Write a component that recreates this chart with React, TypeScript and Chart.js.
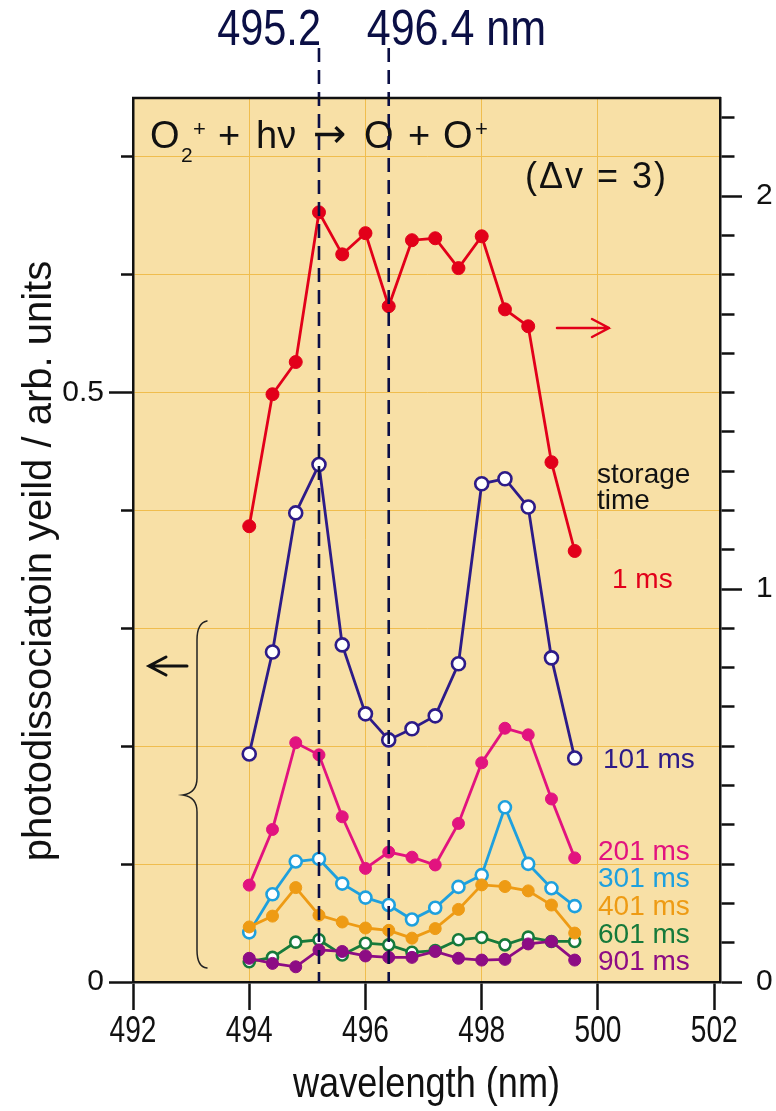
import React, { useEffect, useRef } from "react";
import { Chart, registerables } from "chart.js";

Chart.register(...registerables);

// wavelength grid (nm)
const wavelengths = [494.0, 494.4, 494.8, 495.2, 495.6, 496.0, 496.4, 496.8, 497.2, 497.6, 498.0, 498.4, 498.8, 499.2, 499.6];

// photodissociation yield for each storage time (1 ms on right axis, others on left axis)
const yield1ms = [1.16, 1.496, 1.578, 1.959, 1.852, 1.906, 1.72, 1.888, 1.893, 1.817, 1.898, 1.712, 1.669, 1.323, 1.097];
const yield101ms = [0.1935, 0.28, 0.398, 0.439, 0.286, 0.2275, 0.2054, 0.2148, 0.2258, 0.27, 0.4227, 0.427, 0.403, 0.275, 0.19];
const yield201ms = [0.0822, 0.1294, 0.203, 0.1927, 0.1402, 0.0964, 0.1102, 0.1059, 0.0993, 0.1345, 0.186, 0.2153, 0.2097, 0.1553, 0.1053];
const yield301ms = [0.0421, 0.0744, 0.1022, 0.1044, 0.0835, 0.0716, 0.0653, 0.053, 0.063, 0.0807, 0.0907, 0.1482, 0.1002, 0.0795, 0.0644];
const yield401ms = [0.0467, 0.0559, 0.0801, 0.0567, 0.0509, 0.0458, 0.0438, 0.0372, 0.0453, 0.0616, 0.0824, 0.081, 0.0773, 0.0653, 0.0415];
const yield601ms = [0.0172, 0.0209, 0.0338, 0.0358, 0.0229, 0.0329, 0.0315, 0.0252, 0.0267, 0.0358, 0.0378, 0.0315, 0.0381, 0.0344, 0.0344];
const yield901ms = [0.0201, 0.0158, 0.0129, 0.0272, 0.0259, 0.0221, 0.0209, 0.0209, 0.0259, 0.0201, 0.0186, 0.0192, 0.0323, 0.0344, 0.0186];

// marked wavelengths (nm)
const markedLines = [495.2, 496.4];
const markedLabels = ["495.2", "496.4 nm"];

// axis tick labels
const leftMajor = [0, 0.5];
const rightMajor = [0, 1, 2];
const xTitle = "wavelength (nm)";
const yTitle = "photodissociatoin yeild / arb. units";

const SANS = '"Liberation Sans", Arial, sans-serif';

const C_RED = "#e2001a";
const C_NAVY = "#2d1b88";
const C_PINK = "#e2137f";
const C_CYAN = "#1ea0de";
const C_ORANGE = "#ee9b14";
const C_GREEN = "#167a3b";
const C_PURPLE = "#8d0c84";
const C_DASH = "#0b0f45";
const BG = "#f8e0a6";
const GRID = "#f0bd4e";
const INK = "#111111";

const near = (a: number, b: number) => Math.abs(a - b) < 1e-6;

function series(label: string, ys: number[], color: string, open: boolean, axis = "y", r = 6) {
  return {
    label,
    data: wavelengths.map((x, i) => ({ x, y: ys[i] })),
    yAxisID: axis,
    borderColor: color,
    backgroundColor: color,
    borderWidth: 2.8,
    pointRadius: r,
    pointBorderWidth: open ? 2.6 : 1,
    pointBackgroundColor: open ? "#ffffff" : color,
    pointBorderColor: color,
    tension: 0,
    fill: false,
    clip: false as any,
  };
}

function text(ctx: CanvasRenderingContext2D, s: string, x: number, y: number, font: string, color: string, align: CanvasTextAlign = "left", baseline: CanvasTextBaseline = "middle") {
  ctx.font = font;
  ctx.fillStyle = color;
  ctx.textAlign = align;
  ctx.textBaseline = baseline;
  ctx.fillText(s, x, y);
}

// text squeezed horizontally (condensed look)
function narrowText(ctx: CanvasRenderingContext2D, s: string, x: number, y: number, size: number, sx: number, color: string, align: CanvasTextAlign, baseline: CanvasTextBaseline) {
  ctx.save();
  ctx.translate(x, y);
  ctx.scale(sx, 1);
  text(ctx, s, 0, 0, `${size}px ${SANS}`, color, align, baseline);
  ctx.restore();
}

const decorPlugin = {
  id: "decor",
  beforeDraw(chart: any) {
    const { ctx, chartArea: a } = chart;
    ctx.save();
    ctx.fillStyle = BG;
    ctx.fillRect(a.left, a.top, a.right - a.left, a.bottom - a.top);
    ctx.restore();
  },
  afterDraw(chart: any) {
    const { ctx, chartArea: a, scales } = chart;
    const xs = scales.x;
    ctx.save();
    // x tick labels and title in a condensed face
    xs.ticks.forEach((t: any) => {
      narrowText(ctx, String(t.value), xs.getPixelForValue(t.value), 1032, 36, 0.78, INK, "center", "middle");
    });
    narrowText(ctx, xTitle, (a.left + a.right) / 2, 1085, 42, 0.86, INK, "center", "middle");
    ctx.restore();
  },
  afterDatasetsDraw(chart: any) {
    const { ctx, chartArea: a, scales } = chart;
    const xs = scales.x;
    ctx.save();

    // reaction formula
    const base = 148;
    const f38 = `38px ${SANS}`;
    text(ctx, "O", 150, base, f38, INK, "left", "alphabetic");
    text(ctx, "2", 181, base + 14, `21px ${SANS}`, INK, "left", "alphabetic");
    text(ctx, "+", 193, base - 12, `22px ${SANS}`, INK, "left", "alphabetic");
    text(ctx, "+", 218, base, f38, INK, "left", "alphabetic");
    text(ctx, "h\u03bd", 256, base, f38, INK, "left", "alphabetic");
    text(ctx, "\u2192", 313, base - 1, `40px "DejaVu Sans", ${SANS}`, INK, "left", "alphabetic");
    text(ctx, "O", 364, base, f38, INK, "left", "alphabetic");
    text(ctx, "+", 408, base, f38, INK, "left", "alphabetic");
    text(ctx, "O", 443, base, f38, INK, "left", "alphabetic");
    text(ctx, "+", 475, base - 12, `22px ${SANS}`, INK, "left", "alphabetic");

    // vibrational quantum change
    ctx.save();
    (ctx as any).letterSpacing = "2px";
    text(ctx, "(\u0394v = 3)", 525, 178, `36px ${SANS}`, INK, "left", "middle");
    ctx.restore();

    // storage-time labels
    const f28 = `28px ${SANS}`;
    text(ctx, "storage", 597, 475, f28, INK);
    text(ctx, "time", 597, 501, f28, INK);
    text(ctx, "1 ms", 612, 580, f28, C_RED);
    text(ctx, "101 ms", 603, 760, f28, C_NAVY);
    text(ctx, "201 ms", 598, 852, f28, C_PINK);
    text(ctx, "301 ms", 598, 879, f28, C_CYAN);
    text(ctx, "401 ms", 598, 907, f28, C_ORANGE);
    text(ctx, "601 ms", 598, 935, f28, C_GREEN);
    text(ctx, "901 ms", 598, 962, f28, C_PURPLE);

    // axis pointers
    ctx.lineCap = "round";
    ctx.strokeStyle = C_RED;
    ctx.lineWidth = 2.5;
    ctx.beginPath();
    ctx.moveTo(557, 328);
    ctx.lineTo(609, 328);
    ctx.moveTo(592, 319);
    ctx.lineTo(609, 328);
    ctx.lineTo(592, 337);
    ctx.stroke();

    ctx.strokeStyle = INK;
    ctx.lineWidth = 3;
    ctx.beginPath();
    ctx.moveTo(187, 666);
    ctx.lineTo(149, 666);
    ctx.moveTo(166, 657);
    ctx.lineTo(149, 666);
    ctx.lineTo(166, 675);
    ctx.stroke();

    // curly brace grouping the left-axis series
    ctx.strokeStyle = "#222222";
    ctx.lineWidth = 1.5;
    ctx.beginPath();
    ctx.moveTo(207, 621);
    ctx.quadraticCurveTo(197, 623, 197, 640);
    ctx.lineTo(197, 778);
    ctx.quadraticCurveTo(197, 793, 183, 795);
    ctx.quadraticCurveTo(197, 797, 197, 812);
    ctx.lineTo(197, 950);
    ctx.quadraticCurveTo(197, 967, 207, 968);
    ctx.stroke();

    // y-axis title
    ctx.save();
    ctx.translate(40, 561);
    ctx.rotate(-Math.PI / 2);
    text(ctx, yTitle, 0, 0, `40px ${SANS}`, INK, "center", "middle");
    ctx.restore();

    // marked wavelengths
    ctx.lineCap = "butt";
    ctx.strokeStyle = C_DASH;
    ctx.lineWidth = 2.6;
    ctx.setLineDash([14, 8]);
    markedLines.forEach((w) => {
      const px = xs.getPixelForValue(w);
      ctx.beginPath();
      ctx.moveTo(px, 48);
      ctx.lineTo(px, a.bottom);
      ctx.stroke();
    });
    ctx.setLineDash([]);
    const p0 = xs.getPixelForValue(markedLines[0]);
    const p1 = xs.getPixelForValue(markedLines[1]);
    narrowText(ctx, markedLabels[0], p0 + 2, 45, 50, 0.83, C_DASH, "right", "alphabetic");
    narrowText(ctx, markedLabels[1], p1 - 22, 45, 50, 0.86, C_DASH, "left", "alphabetic");

    // top frame edge
    ctx.strokeStyle = INK;
    ctx.lineWidth = 2.5;
    ctx.beginPath();
    ctx.moveTo(a.left - 1, a.top);
    ctx.lineTo(a.right + 1, a.top);
    ctx.stroke();

    ctx.restore();
  },
};

export default function App() {
  const ref = useRef<HTMLCanvasElement>(null);

  useEffect(() => {
    document.body.style.margin = "0";
    const canvas = ref.current;
    if (!canvas) return;

    const chart = new Chart(canvas, {
      type: "line",
      data: {
        datasets: [
          series("901 ms", yield901ms, C_PURPLE, false),
          series("401 ms", yield401ms, C_ORANGE, false),
          series("601 ms", yield601ms, C_GREEN, true, "y", 5.5),
          series("301 ms", yield301ms, C_CYAN, true),
          series("201 ms", yield201ms, C_PINK, false),
          series("101 ms", yield101ms, C_NAVY, true, "y", 6.5),
          series("1 ms", yield1ms, C_RED, false, "y1", 6.5),
        ] as any,
      },
      options: {
        responsive: false,
        maintainAspectRatio: false,
        animation: false,
        devicePixelRatio: 1,
        layout: { padding: { top: 98, left: 0, right: 0, bottom: 0 } },
        plugins: {
          legend: { display: false },
          tooltip: { enabled: false },
        },
        scales: {
          x: {
            type: "linear",
            position: "bottom",
            min: 492,
            max: 502.1,
            afterFit: (s: any) => {
              s.height = 129;
            },
            ticks: {
              display: false,
              stepSize: 2,
              includeBounds: false,
              autoSkip: false,
              maxRotation: 0,
            },
            grid: {
              color: (c: any) => (c.tick && (near(c.tick.value, 492) || near(c.tick.value, 502)) ? "rgba(0,0,0,0)" : GRID),
              lineWidth: 1,
              tickColor: INK,
              tickLength: 28,
              tickWidth: 2.5,
            },
            border: { color: INK, width: 2.5 },
          },
          y: {
            type: "linear",
            position: "left",
            min: 0,
            max: 0.75,
            afterFit: (s: any) => {
              s.width = 133;
            },
            ticks: {
              stepSize: 0.1,
              includeBounds: false,
              autoSkip: false,
              padding: 5,
              color: INK,
              font: { family: SANS, size: 30 },
              callback: (v: any) => {
                const m = leftMajor.find((t) => near(t, Number(v)));
                return m === undefined ? "" : String(m);
              },
            },
            grid: {
              color: (c: any) => (c.tick && c.tick.value > 1e-6 ? GRID : "rgba(0,0,0,0)"),
              lineWidth: 1,
              tickColor: INK,
              tickLength: 24,
              tickWidth: 2.5,
              tickBorderDash: (c: any) => (c.tick && leftMajor.some((t) => near(t, c.tick.value)) ? [] : [0, 12, 12, 100]),
            },
            border: { color: INK, width: 2.5 },
          },
          y1: {
            type: "linear",
            position: "right",
            min: 0,
            max: 2.25,
            afterFit: (s: any) => {
              s.width = 56;
            },
            ticks: {
              stepSize: 0.1,
              includeBounds: false,
              autoSkip: false,
              padding: 14,
              color: INK,
              font: { family: SANS, size: 30 },
              callback: (v: any) => {
                const m = rightMajor.find((t) => near(t, Number(v)));
                return m === undefined ? "" : String(m);
              },
            },
            grid: {
              drawOnChartArea: false,
              tickColor: INK,
              tickLength: 22,
              tickWidth: 2.5,
              tickBorderDash: (c: any) => (c.tick && rightMajor.some((t) => near(t, c.tick.value)) ? [] : [13, 100]),
            },
            border: { color: INK, width: 2.5 },
          },
        },
      } as any,
      plugins: [decorPlugin],
    });

    return () => chart.destroy();
  }, []);

  return (
    <div style={{ width: 776, height: 1111, position: "relative" }}>
      <canvas ref={ref} width={776} height={1111} style={{ display: "block", width: 776, height: 1111 }} />
    </div>
  );
}
